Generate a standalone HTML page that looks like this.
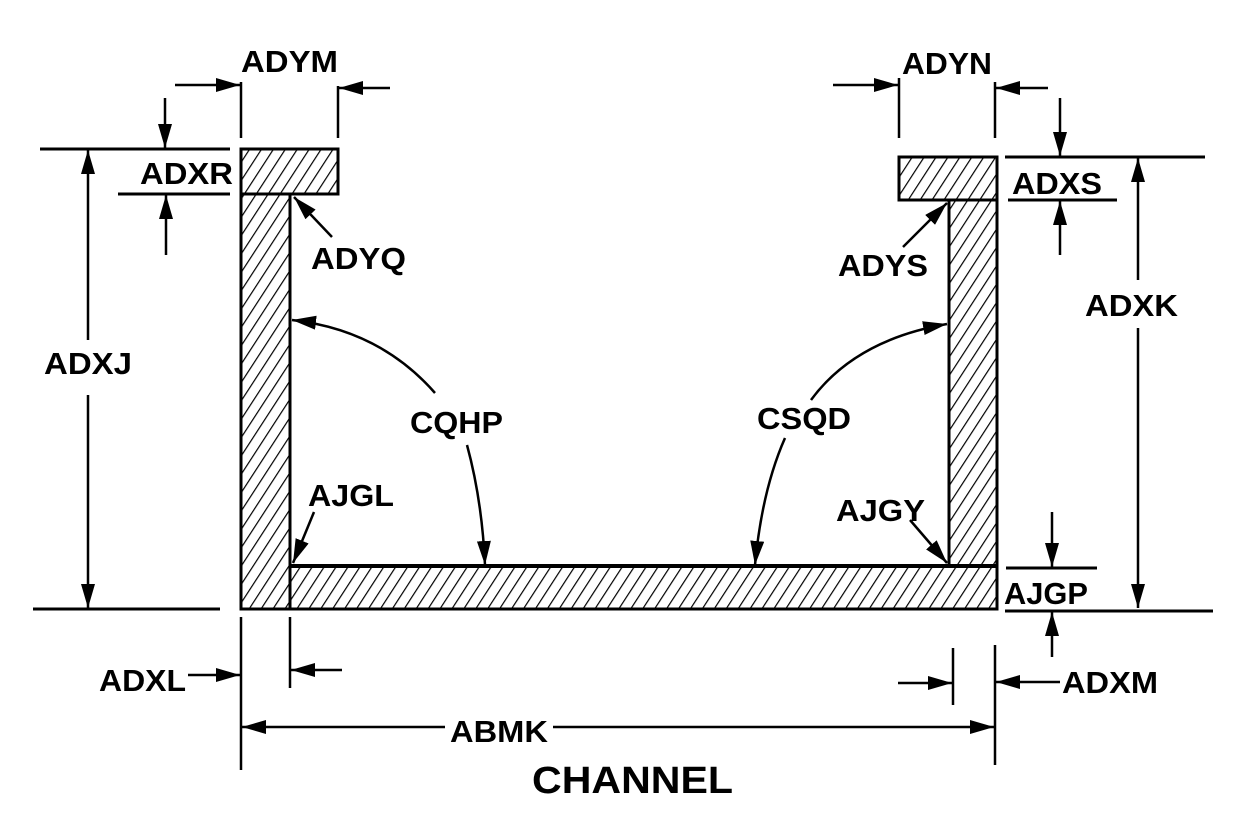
<!DOCTYPE html>
<html><head><meta charset="utf-8"><style>
html,body{margin:0;padding:0;background:#fff;}
svg{display:block;}
text{font-family:"Liberation Sans",sans-serif;font-weight:bold;fill:#000;}
</style></head><body>
<svg width="1260" height="840" viewBox="0 0 1260 840" xmlns="http://www.w3.org/2000/svg">
<defs>
<pattern id="h" patternUnits="userSpaceOnUse" width="10" height="10" patternTransform="rotate(33)">
<line x1="0" y1="0" x2="0" y2="10" stroke="#000" stroke-width="2.4"/>
</pattern>
<marker id="A" viewBox="0 0 24 14" refX="24" refY="7" markerWidth="24" markerHeight="14" orient="auto" markerUnits="userSpaceOnUse">
<path d="M0,0 L24,7 L0,14 Z" fill="#000"/>
</marker>
</defs>
<g stroke="#000" fill="none">
<rect x="241" y="149" width="97" height="45" fill="url(#h)" stroke-width="3"/>
<rect x="241" y="194" width="49" height="415" fill="url(#h)" stroke-width="3"/>
<rect x="290" y="566" width="707" height="43" fill="url(#h)" stroke-width="3"/>
<line x1="290" y1="566" x2="997" y2="566" stroke-width="4"/>
<rect x="949" y="200" width="48" height="366" fill="url(#h)" stroke-width="3"/>
<rect x="899" y="157" width="98" height="43" fill="url(#h)" stroke-width="3"/>

<g stroke-width="2.5">
<line x1="241" y1="82" x2="241" y2="138"/><line x1="338" y1="86" x2="338" y2="138"/>
<line x1="175" y1="85" x2="240" y2="85" marker-end="url(#A)"/>
<line x1="390" y1="88" x2="339" y2="88" marker-end="url(#A)"/>
<line x1="40" y1="149" x2="230" y2="149" stroke-width="3"/>
<line x1="118" y1="194" x2="230" y2="194" stroke-width="3"/>
<line x1="165" y1="98" x2="165" y2="148" marker-end="url(#A)"/>
<line x1="166" y1="255" x2="166" y2="195" marker-end="url(#A)"/>
<line x1="88" y1="200" x2="88" y2="150" marker-end="url(#A)"/>
<line x1="88" y1="200" x2="88" y2="340"/>
<line x1="88" y1="395" x2="88" y2="608" marker-end="url(#A)"/>
<line x1="33" y1="609" x2="220" y2="609" stroke-width="3"/>
<line x1="332" y1="237" x2="294" y2="197" marker-end="url(#A)"/>
<path d="M435,393 Q380,330 292,320" marker-end="url(#A)"/>
<path d="M467,445 Q482,500 485,565" marker-end="url(#A)"/>
<line x1="314" y1="512" x2="293" y2="563" marker-end="url(#A)"/>
<path d="M811,400 Q855,340 947,324" marker-end="url(#A)"/>
<path d="M785,438 Q762,490 755,565" marker-end="url(#A)"/>
<line x1="910" y1="520" x2="947" y2="563" marker-end="url(#A)"/>
<line x1="903" y1="247" x2="947" y2="203" marker-end="url(#A)"/>
<line x1="899" y1="78" x2="899" y2="138"/><line x1="995" y1="82" x2="995" y2="138"/>
<line x1="833" y1="85" x2="898" y2="85" marker-end="url(#A)"/>
<line x1="1048" y1="88" x2="996" y2="88" marker-end="url(#A)"/>
<line x1="1005" y1="157" x2="1205" y2="157" stroke-width="3"/>
<line x1="1008" y1="200" x2="1117" y2="200" stroke-width="3"/>
<line x1="1060" y1="98" x2="1060" y2="156" marker-end="url(#A)"/>
<line x1="1060" y1="255" x2="1060" y2="201" marker-end="url(#A)"/>
<line x1="1138" y1="280" x2="1138" y2="158" marker-end="url(#A)"/>
<line x1="1138" y1="328" x2="1138" y2="608" marker-end="url(#A)"/>
<line x1="1006" y1="568" x2="1097" y2="568" stroke-width="3"/>
<line x1="1052" y1="512" x2="1052" y2="567" marker-end="url(#A)"/>
<line x1="1005" y1="611" x2="1213" y2="611" stroke-width="3"/>
<line x1="1052" y1="657" x2="1052" y2="612" marker-end="url(#A)"/>
<line x1="241" y1="617" x2="241" y2="770"/>
<line x1="290" y1="617" x2="290" y2="688"/>
<line x1="188" y1="675" x2="240" y2="675" marker-end="url(#A)"/>
<line x1="342" y1="670" x2="291" y2="670" marker-end="url(#A)"/>
<line x1="953" y1="648" x2="953" y2="705"/>
<line x1="995" y1="645" x2="995" y2="765"/>
<line x1="898" y1="683" x2="952" y2="683" marker-end="url(#A)"/>
<line x1="1060" y1="682" x2="996" y2="682" marker-end="url(#A)"/>
<line x1="445" y1="727" x2="242" y2="727" marker-end="url(#A)"/>
<line x1="553" y1="727" x2="994" y2="727" marker-end="url(#A)"/>
</g>
</g>
<g font-size="31">
<text x="241" y="72" textLength="97" lengthAdjust="spacingAndGlyphs">ADYM</text>
<text x="140" y="184" textLength="93" lengthAdjust="spacingAndGlyphs">ADXR</text>
<text x="44" y="374" textLength="88" lengthAdjust="spacingAndGlyphs">ADXJ</text>
<text x="311" y="269" textLength="95" lengthAdjust="spacingAndGlyphs">ADYQ</text>
<text x="410" y="433" textLength="93" lengthAdjust="spacingAndGlyphs">CQHP</text>
<text x="308" y="506" textLength="86" lengthAdjust="spacingAndGlyphs">AJGL</text>
<text x="757" y="429" textLength="94" lengthAdjust="spacingAndGlyphs">CSQD</text>
<text x="836" y="521" textLength="89" lengthAdjust="spacingAndGlyphs">AJGY</text>
<text x="838" y="276" textLength="90" lengthAdjust="spacingAndGlyphs">ADYS</text>
<text x="902" y="74" textLength="90" lengthAdjust="spacingAndGlyphs">ADYN</text>
<text x="1012" y="194" textLength="90" lengthAdjust="spacingAndGlyphs">ADXS</text>
<text x="1085" y="316" textLength="93" lengthAdjust="spacingAndGlyphs">ADXK</text>
<text x="1004" y="604" textLength="84" lengthAdjust="spacingAndGlyphs">AJGP</text>
<text x="99" y="691" textLength="87" lengthAdjust="spacingAndGlyphs">ADXL</text>
<text x="1062" y="693" textLength="96" lengthAdjust="spacingAndGlyphs">ADXM</text>
<text x="450" y="742" textLength="98" lengthAdjust="spacingAndGlyphs">ABMK</text>
<text x="532" y="793" font-size="38" textLength="201" lengthAdjust="spacingAndGlyphs">CHANNEL</text>
</g>
</svg>
</body></html>
